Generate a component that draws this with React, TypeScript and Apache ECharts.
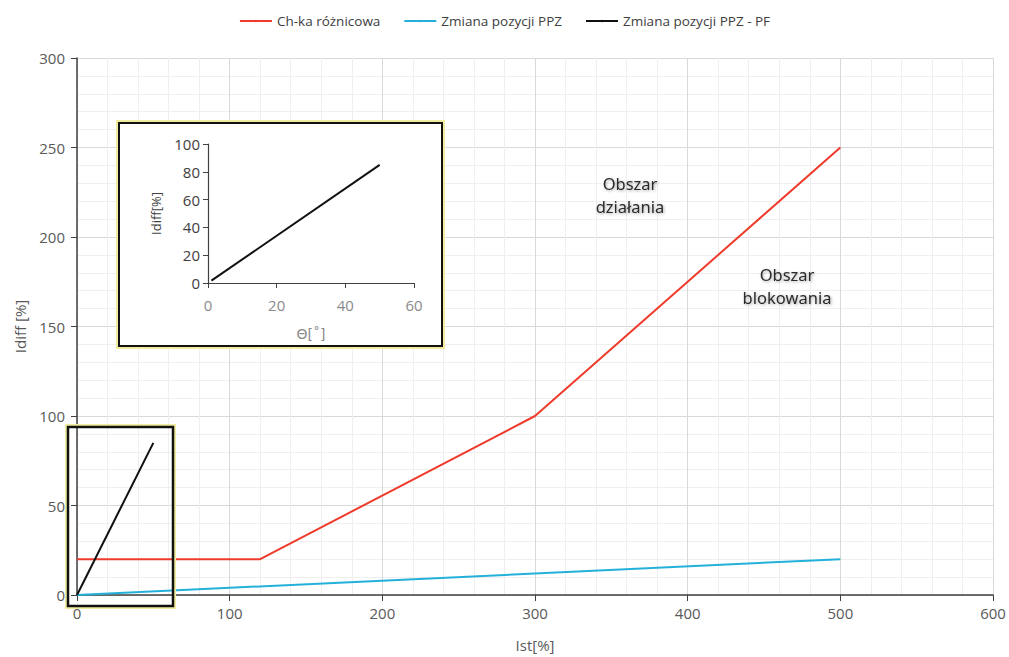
import React, { useEffect, useRef } from "react";
import * as echarts from "echarts";

const legendNames = ["Ch-ka różnicowa", "Zmiana pozycji PPZ", "Zmiana pozycji PPZ - PF"];
const redData = [[0, 20], [120, 20], [300, 100], [500, 250]];
const blueData = [[0, 0], [500, 20]];
const blackData = [[0, 0], [50, 85]];
const insetData = [[1, 1.7], [50, 85]];
const annotations = ["Obszar\ndziałania", "Obszar\nblokowania"];

const FONT = "'Open Sans', 'Liberation Sans', sans-serif";

export default function App() {
  const ref = useRef<HTMLDivElement>(null);
  useEffect(() => {
    document.body.style.margin = "0";
    const chart = echarts.init(ref.current!, null, { renderer: "svg" });
    const axisLine = { show: true, lineStyle: { color: "#404040", width: 1.5 } };
    const annStyle = {
      fontSize: 16.5, fontFamily: "'Noto Sans', sans-serif", fontWeight: 400,
      fill: "#2a2a2a", textAlign: "center", textVerticalAlign: "middle", lineHeight: 23,
      textShadowColor: "rgba(0,0,0,0.35)", textShadowBlur: 3, textShadowOffsetX: 1, textShadowOffsetY: 1,
    };
    chart.setOption({
      animation: false,
      backgroundColor: "#ffffff",
      textStyle: { fontFamily: FONT },
      legend: {
        data: legendNames,
        top: 9,
        left: "center",
        itemWidth: 32,
        itemHeight: 3,
        itemGap: 23,
        textStyle: { fontSize: 13.5, color: "#404040", fontFamily: FONT },
      },
      grid: [
        { left: 77, right: 16, top: 58, bottom: 61 },
        { left: 208, right: 595, top: 144, bottom: 374 },
      ],
      xAxis: [
        {
          type: "value", gridIndex: 0, min: 0, max: 600, interval: 100,
          axisLine, axisTick: { show: true, length: 6, lineStyle: { color: "#404040" } },
          axisLabel: { fontSize: 15, color: "#595959", margin: 10, fontFamily: FONT },
          splitLine: { show: true, lineStyle: { color: "#d9d9d9", width: 1 } },
          minorTick: { show: false, splitNumber: 5 },
          minorSplitLine: { show: true, lineStyle: { color: "#efefef", width: 1 } },
          name: "Ist[%]", nameLocation: "middle", nameGap: 42,
          nameTextStyle: { fontSize: 15, color: "#595959", fontFamily: FONT },
        },
        {
          type: "value", gridIndex: 1, min: 0, max: 60, interval: 20, z: 5,
          axisLine: { show: true, lineStyle: { color: "#404040", width: 1.2 } },
          axisTick: { show: true, length: 5, lineStyle: { color: "#404040" } },
          axisLabel: { fontSize: 15, color: "#8a8a8a", margin: 14, fontFamily: FONT },
          splitLine: { show: false },
          name: "Θ[˚]", nameLocation: "middle", nameGap: 44,
          nameTextStyle: { fontSize: 14, color: "#8a8a8a", fontFamily: "'DejaVu Sans', sans-serif" },
        },
      ],
      yAxis: [
        {
          type: "value", gridIndex: 0, min: 0, max: 300, interval: 50,
          axisLine, axisTick: { show: true, length: 6, lineStyle: { color: "#404040" } },
          axisLabel: { fontSize: 15, color: "#595959", margin: 12, fontFamily: FONT },
          splitLine: { show: true, lineStyle: { color: "#d9d9d9", width: 1 } },
          minorTick: { show: false, splitNumber: 5 },
          minorSplitLine: { show: true, lineStyle: { color: "#efefef", width: 1 } },
          name: "Idiff [%]", nameLocation: "middle", nameGap: 50,
          nameTextStyle: { fontSize: 15, color: "#595959", fontFamily: FONT },
        },
        {
          type: "value", gridIndex: 1, min: 0, max: 100, interval: 20, z: 5,
          axisLine: { show: true, lineStyle: { color: "#404040", width: 1.2 } },
          axisTick: { show: true, length: 5, lineStyle: { color: "#404040" } },
          axisLabel: { fontSize: 15, color: "#404040", margin: 8, fontFamily: FONT },
          splitLine: { show: false },
          name: "Idiff[%]", nameLocation: "middle", nameGap: 46,
          nameTextStyle: { fontSize: 13, color: "#404040", fontFamily: FONT },
        },
      ],
      series: [
        {
          name: legendNames[0], type: "line", xAxisIndex: 0, yAxisIndex: 0,
          data: redData, symbol: "none", lineStyle: { color: "#ef3a2c", width: 2 },
          itemStyle: { color: "#ef3a2c" },
        },
        {
          name: legendNames[1], type: "line", xAxisIndex: 0, yAxisIndex: 0,
          data: blueData, symbol: "none", lineStyle: { color: "#25b0da", width: 2 },
          itemStyle: { color: "#25b0da" },
        },
        {
          name: legendNames[2], type: "line", xAxisIndex: 0, yAxisIndex: 0,
          data: blackData, symbol: "none", lineStyle: { color: "#111111", width: 2 },
          itemStyle: { color: "#111111" },
        },
        {
          name: "inset", type: "line", xAxisIndex: 1, yAxisIndex: 1, z: 6,
          data: insetData, symbol: "none", lineStyle: { color: "#111111", width: 2 },
          itemStyle: { color: "#111111" },
        },
      ],
      graphic: [
        {
          type: "rect", z: 1, shape: { x: 117, y: 121, width: 327, height: 227 },
          style: { fill: "none", stroke: "#f0eca0", lineWidth: 2 },
        },
        {
          type: "rect", z: 1, shape: { x: 119, y: 123, width: 323, height: 223 },
          style: { fill: "#ffffff", stroke: "#111111", lineWidth: 2 },
        },
        {
          type: "rect", z: 10, shape: { x: 66, y: 425, width: 109, height: 183 },
          style: { fill: "none", stroke: "#f0eca0", lineWidth: 2 },
        },
        {
          type: "rect", z: 10, shape: { x: 68, y: 427, width: 105, height: 179 },
          style: { fill: "none", stroke: "#111111", lineWidth: 2.5 },
        },
        {
          type: "text", z: 20, x: 630, y: 195,
          style: { ...annStyle, text: annotations[0] },
        },
        {
          type: "text", z: 20, x: 787, y: 286,
          style: { ...annStyle, text: annotations[1] },
        },
      ],
    });
    return () => chart.dispose();
  }, []);
  return <div ref={ref} style={{ width: 1009, height: 657 }} />;
}
